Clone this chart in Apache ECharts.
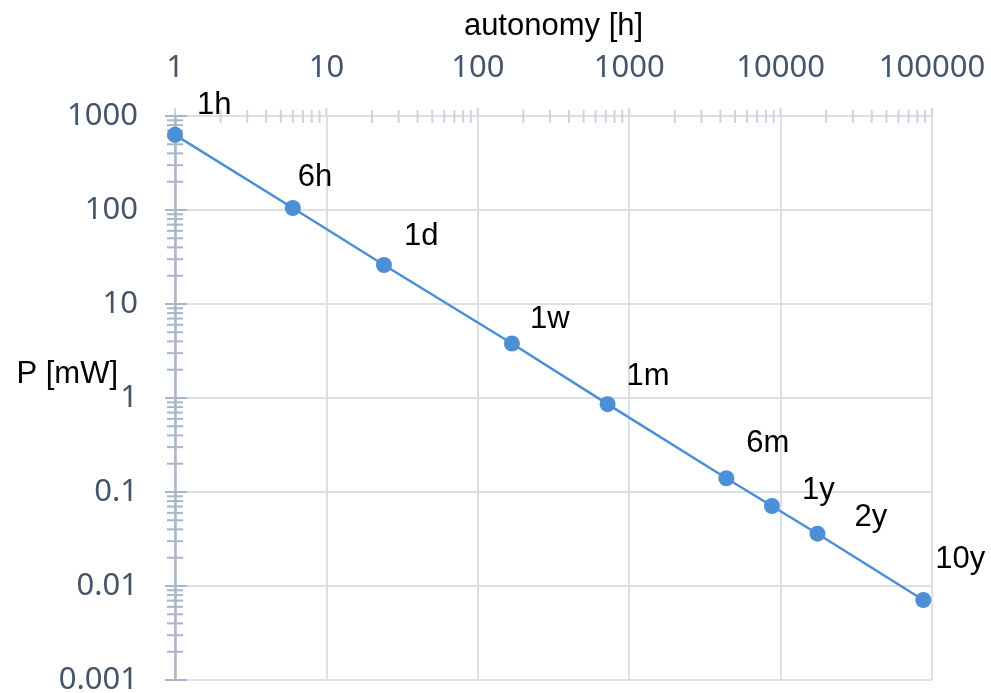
<!DOCTYPE html>
<html>
<head>
<meta charset="utf-8">
<title>Power vs autonomy</title>
<script src="https://cdn.jsdelivr.net/npm/echarts@6/dist/echarts.min.js"></script>
<style>
  html, body { margin: 0; padding: 0; background: #ffffff; }
  #chart { width: 991px; height: 693px; }
</style>
</head>
<body>
<div id="chart"></div>
<script>
// Battery autonomy (hours) and the average power budget it allows (mW)
const pointNames = ['1h', '6h', '1d', '1w', '1m', '6m', '1y', '2y', '10y'];
const autonomyHours = [1, 6, 24, 168, 720, 4380, 8760, 17520, 87600];
const powerMilliwatt = [630, 105, 26, 3.8, 0.86, 0.14, 0.071, 0.036, 0.0071];

// Axis ranges (decades)
const xRange = [1, 100000];
const yRange = [0.001, 1000];

// Per-label nudges [dx, dy] in pixels
const labelShift = [[14, -29], [-3, -31], [12, -29], [10, -24], [11, -28], [12, -35], [22, -16], [29, -16], [4, -41]];

const tickLabelColor = '#44546a';
const gridColor = '#dcdfe8';
const yAxisColor = '#a8b5cb';
const xTickColor = '#cdd3df';
const seriesColor = '#4d8fd6';

// Tick marks at 1..9 x 10^k on both log axes (drawn across the axis lines)
function decadeTicks(lo, hi) {
  const out = [];
  for (let e = Math.round(Math.log10(lo)); e <= Math.round(Math.log10(hi)); e++) {
    for (let m = 1; m <= 9; m++) {
      const v = parseFloat((m * Math.pow(10, e)).toPrecision(6));
      if (v >= lo && v <= hi) out.push([v, m === 1]);
    }
  }
  return out;
}
const tickData = [];
decadeTicks(xRange[0], xRange[1]).forEach(([v, major]) => tickData.push([v, yRange[1], major ? 1 : 0]));
decadeTicks(yRange[0], yRange[1]).forEach(([v, major]) => tickData.push([xRange[0], v, major ? 3 : 2]));

function fmt(v) {
  return String(parseFloat(Number(v).toPrecision(3)));
}

const chart = echarts.init(document.getElementById('chart'), null, { renderer: 'canvas' });

chart.setOption({
  animation: false,
  backgroundColor: '#ffffff',
  grid: { left: 175, right: 59, top: 116, bottom: 13, containLabel: false, outerBoundsMode: 'none' },
  xAxis: {
    type: 'log',
    logBase: 10,
    position: 'top',
    min: xRange[0],
    max: xRange[1],
    splitNumber: 5,
    name: 'autonomy [h]',
    nameLocation: 'middle',
    nameGap: 74,
    nameMoveOverlap: false,
    nameTextStyle: { color: '#000000', fontSize: 31, fontFamily: 'Liberation Sans, Arial, sans-serif' },
    axisLine: { show: true, lineStyle: { color: gridColor, width: 2 } },
    axisTick: { show: false },
    minorTick: { show: false },
    axisLabel: {
      color: tickLabelColor, fontSize: 31, fontFamily: 'Noto Sans, sans-serif',
      margin: 32, formatter: fmt, showMinLabel: true, showMaxLabel: true
    },
    splitLine: { show: true, lineStyle: { color: gridColor, width: 2 } }
  },
  yAxis: {
    type: 'log',
    logBase: 10,
    min: yRange[0],
    max: yRange[1],
    splitNumber: 6,
    name: 'P [mW]',
    nameLocation: 'middle',
    nameRotate: 0,
    nameGap: 57,
    nameMoveOverlap: false,
    nameTextStyle: {
      color: '#000000', fontSize: 31, fontFamily: 'Liberation Sans, Arial, sans-serif',
      verticalAlign: 'bottom', padding: [0, 0, 8, 0]
    },
    axisLine: { show: true, lineStyle: { color: yAxisColor, width: 2.5 } },
    axisTick: { show: false },
    minorTick: { show: false },
    axisLabel: {
      color: tickLabelColor, fontSize: 31, fontFamily: 'Noto Sans, sans-serif',
      margin: 37, formatter: fmt, showMinLabel: true, showMaxLabel: true
    },
    splitLine: { show: true, lineStyle: { color: gridColor, width: 2 } }
  },
  series: [
    {
      type: 'custom',
      name: 'ticks',
      silent: true,
      clip: false,
      z: 1,
      data: tickData,
      renderItem: function (params, api) {
        const kind = api.value(2);
        const p = api.coord([api.value(0), api.value(1)]);
        let shape, color;
        if (kind === 0) { shape = { x1: p[0], y1: p[1] - 6, x2: p[0], y2: p[1] + 7 }; color = xTickColor; }
        else if (kind === 1) { shape = { x1: p[0], y1: p[1] - 8, x2: p[0], y2: p[1] }; color = xTickColor; }
        else if (kind === 2) { shape = { x1: p[0] - 8, y1: p[1], x2: p[0] + 8, y2: p[1] }; color = yAxisColor; }
        else { shape = { x1: p[0] - 10, y1: p[1], x2: p[0] + 12, y2: p[1] }; color = yAxisColor; }
        return { type: 'line', shape: shape, style: { stroke: color, lineWidth: 2 } };
      }
    },
    {
      type: 'line',
      name: 'P',
      z: 3,
      symbol: 'circle',
      symbolSize: 16,
      lineStyle: { color: seriesColor, width: 2.5 },
      itemStyle: { color: seriesColor },
      label: {
        show: true,
        position: 'right',
        distance: 0,
        color: '#000000',
        fontSize: 31,
        fontFamily: 'Liberation Sans, Arial, sans-serif',
        formatter: p => pointNames[p.dataIndex]
      },
      data: autonomyHours.map((h, i) => ({
        value: [h, powerMilliwatt[i]],
        label: { offset: labelShift[i] }
      }))
    }
  ]
});
</script>
</body>
</html>
